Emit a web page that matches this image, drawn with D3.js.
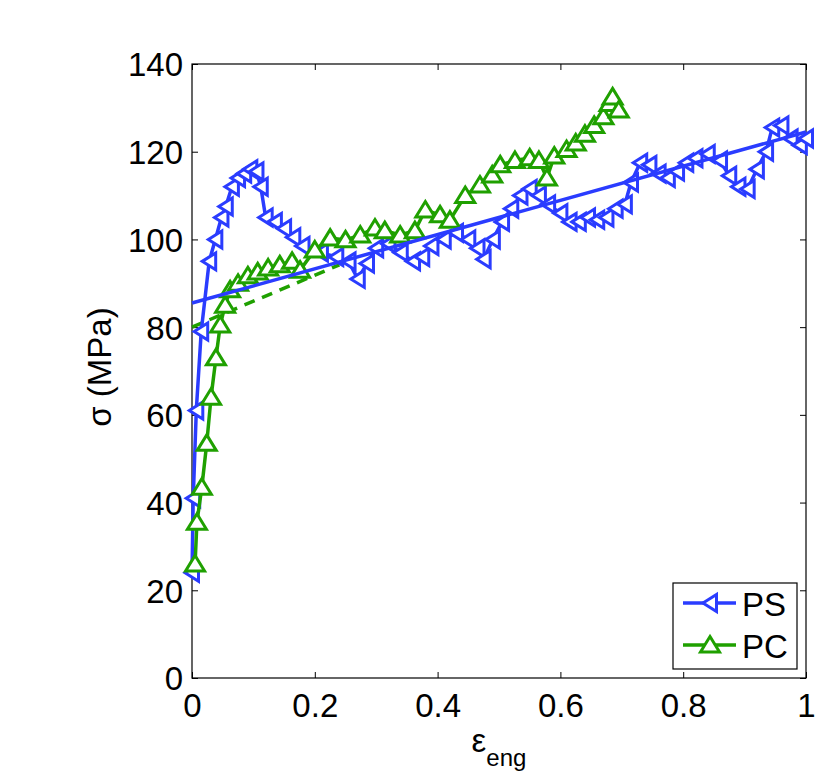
<!DOCTYPE html>
<html lang="en">
<head>
<meta charset="utf-8">
<title>PS vs PC stress-strain</title>
<style>
  body { margin: 0; background: #fff; }
  text { font-family: "Liberation Sans", Arial, sans-serif; }
</style>
</head>
<body>
<div id="chart"></div>
<script src="https://d3js.org/d3.v7.min.js"></script>
<script>
// data (engineering strain, stress in MPa)
var psStrain = [0.000, 0.002, 0.007, 0.015, 0.028, 0.038, 0.048, 0.055, 0.065, 0.075, 0.085, 0.095, 0.105,
  0.112, 0.120, 0.135, 0.150, 0.165, 0.180, 0.210, 0.235, 0.255, 0.270, 0.285, 0.300, 0.320, 0.340, 0.360,
  0.375, 0.390, 0.410, 0.430, 0.450, 0.465, 0.475, 0.490, 0.505, 0.520, 0.535, 0.550, 0.565, 0.580, 0.600,
  0.615, 0.630, 0.645, 0.660, 0.675, 0.690, 0.705, 0.715, 0.730, 0.745, 0.760, 0.775, 0.790, 0.805, 0.820,
  0.840, 0.860, 0.875, 0.890, 0.905, 0.920, 0.935, 0.945, 0.960, 0.975, 0.990, 1.000];
var psStress = [24, 41, 61, 79, 95, 100, 105, 107.5, 112, 114, 115, 116, 115.5,
  112, 105, 104, 102.5, 100.5, 98.5, 97, 96, 95, 91, 94.5, 98, 99, 97, 95,
  96, 98.5, 100, 101.5, 100, 98, 95.5, 100, 104, 107, 110, 111.5, 110, 108, 106,
  104, 104, 105, 104.5, 105, 107, 108, 113, 117.5, 117, 115, 114, 115.5, 117.5, 118.5,
  119.5, 118, 114.5, 112, 111.5, 116, 120, 125.5, 126, 123, 121.5, 123];

var pcStrain = [0.005, 0.008, 0.016, 0.024, 0.031, 0.039, 0.046, 0.054, 0.062, 0.075, 0.091, 0.107, 0.124,
  0.143, 0.163, 0.176, 0.200, 0.225, 0.250, 0.274, 0.298, 0.314, 0.339, 0.363, 0.380, 0.404, 0.420, 0.445,
  0.469, 0.489, 0.502, 0.526, 0.550, 0.565, 0.578, 0.590, 0.610, 0.625, 0.640, 0.655, 0.670, 0.680, 0.685, 0.695];
var pcStress = [26, 35.5, 43.5, 53.5, 64, 73, 80.5, 85, 88.5, 90, 91.7, 92.6, 93.5,
  94.2, 95, 93, 97.6, 100.3, 99.9, 101, 102.6, 102, 101, 102, 106.7, 105.6, 104.4, 110,
  112.4, 114.7, 117, 118, 118.6, 118, 114, 119, 120.5, 122, 124, 126, 128, 131, 132.5, 129.5];

// linear fits
var psFit = [[0, 85.5], [1, 124.5]];
var pcFit = [[0, 80], [0.24, 94.2]];

var series = [
  {name: "PS", x: psStrain, y: psStress, color: "#2a3cff", shape: "left"},
  {name: "PC", x: pcStrain, y: pcStress, color: "#1fa000", shape: "up"}
];

var xTicks = [0, 0.2, 0.4, 0.6, 0.8, 1];
var yTicks = [0, 20, 40, 60, 80, 100, 120, 140];

var W = 830, H = 775;
var mLeft = 192, mTop = 64, pw = 614, ph = 614;

var svg = d3.select("#chart").append("svg")
    .attr("width", W)
    .attr("height", H);

var x = d3.scaleLinear().domain([0, 1]).range([mLeft, mLeft + pw]);
var y = d3.scaleLinear().domain([0, 140]).range([mTop + ph, mTop]);

function markerPath(shape) {
  if (shape === "left") return "M-7,0L6.5,-8.5L6.5,8.5Z";
  return "M0,-8.5L9.5,7L-9.5,7Z";
}

// axes box with ticks inside on all four sides
var tl = 6;
svg.append("g")
    .attr("transform", "translate(0," + (mTop + ph) + ")")
    .call(d3.axisBottom(x).tickValues(xTicks).tickSizeInner(-tl).tickSizeOuter(0).tickFormat(d3.format("")))
    .call(function(g) {
      g.select(".domain").remove();
      g.selectAll("text").attr("dy", null).attr("y", 39).style("font-size", "33px");
    });
svg.append("g")
    .attr("transform", "translate(0," + mTop + ")")
    .call(d3.axisTop(x).tickValues(xTicks).tickSizeInner(-tl).tickSizeOuter(0).tickFormat(""))
    .call(function(g) { g.select(".domain").remove(); });
svg.append("g")
    .attr("transform", "translate(" + mLeft + ",0)")
    .call(d3.axisLeft(y).tickValues(yTicks).tickSizeInner(-tl).tickSizeOuter(0))
    .call(function(g) {
      g.select(".domain").remove();
      g.selectAll("text").attr("x", -9).attr("dy", "0.36em").style("font-size", "33px");
    });
svg.append("g")
    .attr("transform", "translate(" + (mLeft + pw) + ",0)")
    .call(d3.axisRight(y).tickValues(yTicks).tickSizeInner(-tl).tickSizeOuter(0).tickFormat(""))
    .call(function(g) { g.select(".domain").remove(); });

svg.selectAll(".tick line").attr("stroke", "#000");
svg.selectAll(".tick text").attr("fill", "#000");

svg.append("rect")
    .attr("x", mLeft).attr("y", mTop)
    .attr("width", pw).attr("height", ph)
    .attr("fill", "none").attr("stroke", "#000").attr("stroke-width", 1.2);

var line = d3.line().x(function(d) { return x(d[0]); }).y(function(d) { return y(d[1]); });

var plot = svg.append("g");

// dashed PC fit sits under the markers
plot.append("path")
    .datum(pcFit)
    .attr("d", line)
    .attr("fill", "none")
    .attr("stroke", "#1fa000")
    .attr("stroke-width", 3.5)
    .attr("stroke-dasharray", "11,8");

series.forEach(function(s) {
  var pts = s.x.map(function(v, i) { return [v, s.y[i]]; });
  plot.append("path")
      .datum(pts)
      .attr("d", line)
      .attr("fill", "none")
      .attr("stroke", s.color)
      .attr("stroke-width", 3.5)
      .attr("stroke-linejoin", "round");
  plot.append("g").selectAll("path")
      .data(pts)
      .enter()
      .append("path")
      .attr("d", markerPath(s.shape))
      .attr("transform", function(d) { return "translate(" + x(d[0]) + "," + y(d[1]) + ")"; })
      .attr("fill", "#fff")
      .attr("stroke", s.color)
      .attr("stroke-width", 3);
});

plot.append("path")
    .datum(psFit)
    .attr("d", line)
    .attr("fill", "none")
    .attr("stroke", "#2a3cff")
    .attr("stroke-width", 3.5);

// axis titles
svg.append("text")
    .attr("transform", "translate(111,367) rotate(-90)")
    .attr("text-anchor", "middle")
    .style("font-size", "33px")
    .text("σ (MPa)");

var xl = svg.append("text")
    .attr("x", mLeft + pw / 2)
    .attr("y", 752)
    .attr("text-anchor", "middle")
    .style("font-size", "33px");
xl.append("tspan").text("ε");
xl.append("tspan").attr("dy", 14).style("font-size", "24px").text("eng");

// legend
var lg = svg.append("g");
lg.append("rect")
    .attr("x", 673).attr("y", 583)
    .attr("width", 124).attr("height", 86)
    .attr("fill", "#fff").attr("stroke", "#000").attr("stroke-width", 1.2);
series.forEach(function(s, i) {
  var cy = 603 + i * 42;
  lg.append("line")
      .attr("x1", 683).attr("x2", 736)
      .attr("y1", cy).attr("y2", cy)
      .attr("stroke", s.color).attr("stroke-width", 3.5);
  lg.append("path")
      .attr("d", markerPath(s.shape))
      .attr("transform", "translate(710," + cy + ")")
      .attr("fill", "#fff")
      .attr("stroke", s.color)
      .attr("stroke-width", 3);
  lg.append("text")
      .attr("x", 742).attr("y", cy + 13)
      .style("font-size", "33px")
      .text(s.name);
});
</script>
</body>
</html>
